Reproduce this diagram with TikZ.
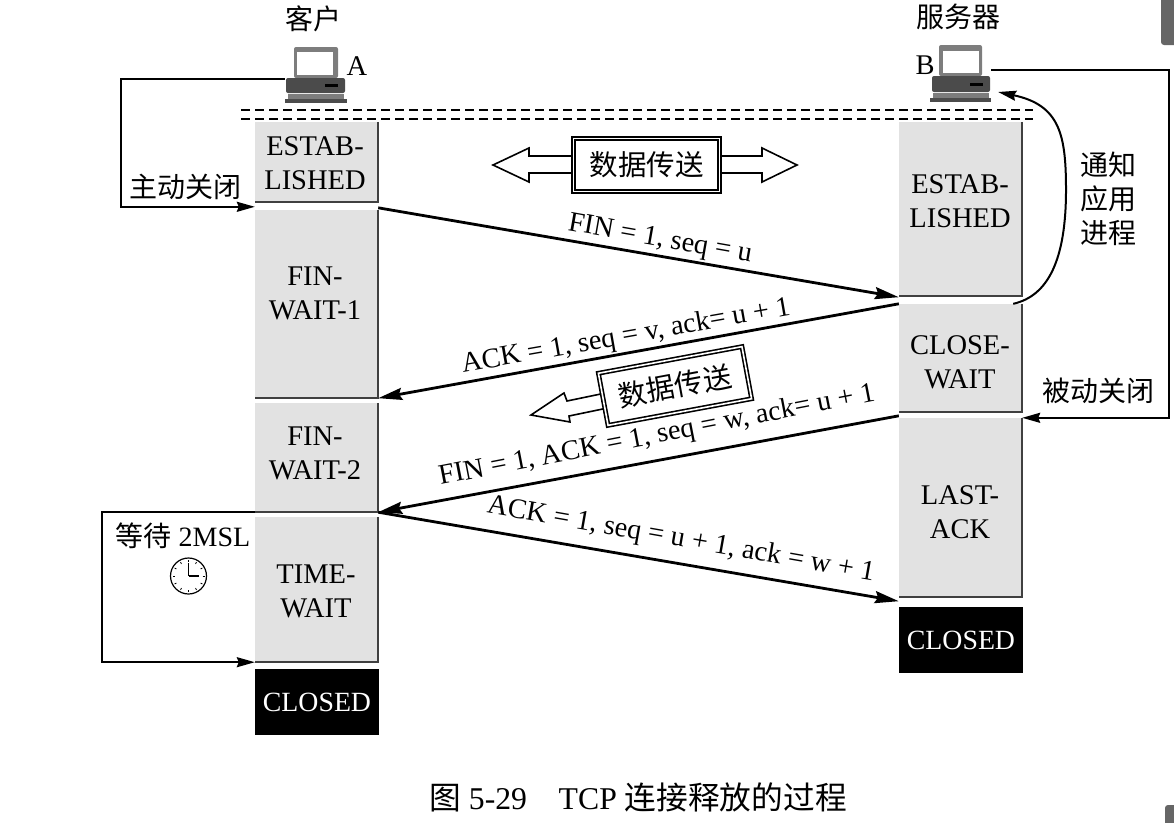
\documentclass[tikz,border=0pt]{standalone}
\usepackage{fontspec}
\setmainfont{Liberation Serif}
\newfontfamily\cjk{Noto Sans CJK SC}
\usetikzlibrary{arrows.meta}

\begin{document}
\begin{tikzpicture}[x=1pt, y=-1pt, >={Stealth[length=18pt,width=10pt,inset=2pt]},
		font=\fontsize{28.5}{34}\selectfont,
		statebox/.style={fill=stategray, inner sep=0pt, minimum width=123pt},
		statetext/.style={inner sep=0pt, align=center},
		closedbox/.style={fill=black, text=white, inner sep=0pt, minimum width=124pt, minimum height=66pt, font=\fontsize{27.8}{30}\selectfont},
		msg/.style={-{Stealth[length=24pt,width=12pt,inset=3pt]}, line width=2.8pt},
		wire/.style={line width=2pt},
		databox/.style={draw=black, double=white, double distance=1.6pt, line width=1.6pt, fill=white, inner sep=0pt, minimum width=146pt, minimum height=53pt, font=\fontsize{28.5}{34}\selectfont\cjk},
		datatip/.style={draw=black, line width=1.6pt, fill=white},
		label/.style={inner sep=0pt, font=\fontsize{28.3}{30}\selectfont},
		hz/.style={inner sep=0pt, font=\fontsize{28}{34}\selectfont\cjk, align=center}]
		\definecolor{stategray}{RGB}{226, 226, 226}
		\definecolor{pcgray}{RGB}{125, 125, 125}
		\useasboundingbox (0,0) rectangle (1174,822);
		
		% 客户端主机
		\node[inner sep=0pt, minimum width=62pt, minimum height=56pt] (pcA) at (316,75) {};
		\node[hz] (nameA) at (313,19) {客户};
		\node[inner sep=0pt] (letterA) at (357,66) {A};
		\fill[pcgray, rounded corners=2pt] (294,47) rectangle (338,78);
		\fill[white] (297,52) rectangle (333,75);
		\fill[pcgray!60!black, rounded corners=2pt] (286,78) rectangle (345,93);
		\fill[black] (325,84) rectangle (338,87);
		\fill[pcgray] (288,94) rectangle (344,99);
		\fill[black!70] (285,99) rectangle (347,103);
		
		% 服务器主机
		\node[inner sep=0pt, minimum width=62pt, minimum height=56pt] (pcB) at (960,74) {};
		\node[hz] (nameB) at (958,17) {服务器};
		\node[inner sep=0pt] (letterB) at (925,65) {B};
		\fill[pcgray, rounded corners=2pt] (939,45) rectangle (982,76);
		\fill[white] (943,51) rectangle (979,73);
		\fill[pcgray!60!black, rounded corners=2pt] (932,76) rectangle (990,92);
		\fill[black] (970,83) rectangle (983,86);
		\fill[pcgray] (933,93) rectangle (989,98);
		\fill[black!70] (930,98) rectangle (991,102);
		
		% 虚线
		\draw[dash pattern=on 9pt off 5pt, line width=1.6pt] (241,110) -- (1033,110);
		\draw[dash pattern=on 9pt off 5pt, line width=1.6pt] (241,119) -- (1033,119);
		
		% A 的状态
		\node[statebox, minimum height=80pt] (estabA) at (316.5,162) {};
		\node[statebox, minimum height=188pt] (waitoneA) at (316.5,304) {};
		\node[statebox, minimum height=109pt] (waittwoA) at (316.5,457.5) {};
		\node[statebox, minimum height=145pt] (timeA) at (316.5,589.5) {};
		\node[closedbox] (closedA) at (317,702) {CLOSED};
		\node[statetext] (estabAtext) at (315,163) {ESTAB-\\LISHED};
		\node[statetext] (waitoneAtext) at (315,293) {FIN-\\WAIT-1};
		\node[statetext] (waittwoAtext) at (315,453) {FIN-\\WAIT-2};
		\node[statetext] (timeAtext) at (316,591) {TIME-\\WAIT};
		
		% B 的状态
		\node[statebox, minimum height=174pt] (estabB) at (960.5,209) {};
		\node[statebox, minimum height=108pt] (closeB) at (960.5,358) {};
		\node[statebox, minimum height=179pt] (lastB) at (960.5,507.5) {};
		\node[closedbox] (closedB) at (961,640) {CLOSED};
		\node[statetext] (estabBtext) at (960,201) {ESTAB-\\LISHED};
		\node[statetext] (closeBtext) at (960,362) {CLOSE-\\WAIT};
		\node[statetext] (lastBtext) at (960,512) {LAST-\\ACK};
		
		% 状态框的右边和下边
		\foreach \s in {estabA, waitoneA, waittwoA, timeA, estabB, closeB, lastB}
			\draw[line width=2pt, black!75] (\s.north east) -- (\s.south east) -- (\s.south west);
		
		% 报文段
		\draw[msg] ([yshift=2pt]waitoneA.north east) -- ([yshift=-1pt]estabB.south west);
		\draw[msg] (closeB.north west) -- (waitoneA.south east);
		\draw[msg] ([yshift=2pt]lastB.north west) -- (waittwoA.south east);
		\draw[msg] (waittwoA.south east) -- ([yshift=-4pt]lastB.south west);
		\node[label, rotate=-10] (finone) at (660,240) {FIN = 1, seq = u};
		\node[label, rotate=10] (ackone) at (626,337) {ACK = 1, seq = v, ack= u + 1};
		\node[label, rotate=11] (fintwo) at (657,436) {FIN = 1, ACK = 1, seq = w, ack= u + 1};
		\node[label, rotate=-10] (acktwo) at (681,540) {ACK = 1, seq = u + 1, ack = w + 1};
		
		% 数据传送
		\draw[datatip] (493,165) -- (529,148) -- (529,156) -- (762,156) -- (762,148) -- (797,165)
			-- (762,182) -- (762,173) -- (529,173) -- (529,182) -- cycle;
		\node[databox] (datatop) at (646.5,165) {数据传送};
		\draw[datatip] (531,415) -- (564,393) -- (567,401) -- (620,390) -- (622,405) -- (569,416) -- (570,422) -- cycle;
		\node[databox, rotate=10.5] (datamid) at (675,386) {数据传送};
		
		% 主动关闭
		\draw[wire, ->] ([yshift=-4pt]pcA.west) -- ++(-164,0) |- ([yshift=3pt]waitoneA.north west);
		\node[hz] (activeclose) at (185,187) {主动关闭};
		
		% 被动关闭
		\draw[wire, ->] ([yshift=4pt]pcB.east) -- ++(178,0) |- (lastB.north east);
		\node[hz] (passiveclose) at (1098,391) {被动关闭};
		
		% 通知应用进程
		\draw[wire, ->] ([xshift=-9pt]closeB.north east) .. controls (1048,296) and (1066,260) .. (1066,190)
			.. controls (1066,135) and (1060,105) .. ([xshift=7pt,yshift=-18pt]pcB.east);
		\node[hz] (notify) at (1108,199) {通知\\应用\\进程};
		
		% 等待 2MSL
		\draw[wire, ->] (waittwoA.south west) -- ++(-153,0) |- (timeA.south west);
		\node[inner sep=0pt, font=\fontsize{28}{34}\selectfont] (waitlabel) at (183,536) {{\cjk 等待} 2MSL};
		\node[draw, circle, line width=1.2pt, minimum size=36pt, inner sep=0pt] (clock) at (188.5,576) {};
		\foreach \a in {0,30,...,330}
			\draw[line width=0.8pt] (clock.center) ++(\a:14) -- ++(\a:2);
		\draw[line width=1.6pt] (clock.center) -- ++(0,-13);
		\draw[line width=1.6pt] (clock.center) -- ++(10,0);
		
		% 图题
		\node[inner sep=0pt, font=\fontsize{31.7}{34}\selectfont] (caption) at (638,797) {{\cjk 图} 5-29\hspace{1em}TCP {\cjk 连接释放的过程}};
		
		% 右侧边角
		\fill[black!60, rounded corners=3pt] (1161,-5) rectangle (1180,45);
		\fill[black!60, rounded corners=3pt] (1165,805) rectangle (1180,830);
	\end{tikzpicture}
\end{document}
